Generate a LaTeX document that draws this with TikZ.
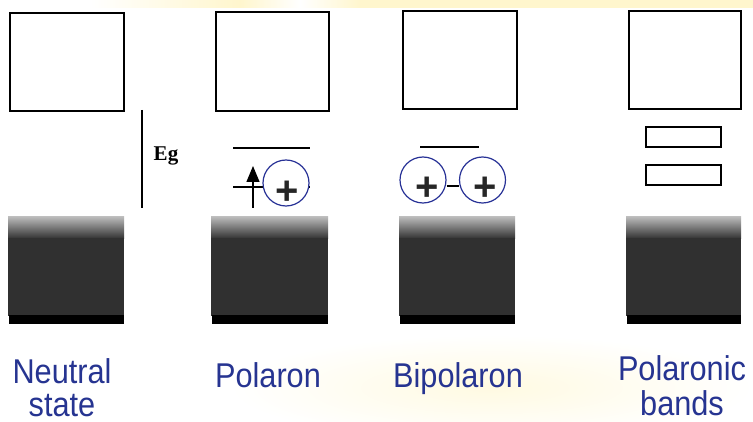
\documentclass[tikz,border=0pt]{standalone}
\usepackage{fontspec}
\setmainfont{Liberation Serif}
\newfontfamily\labelfont{Liberation Sans}
\usetikzlibrary{arrows.meta}
\definecolor{labelblue}{RGB}{38,52,145}
\definecolor{holeblue}{RGB}{40,50,150}
\definecolor{dkgray}{RGB}{48,48,48}
\definecolor{ltgray}{RGB}{185,185,185}
\definecolor{bgyellow}{RGB}{255,246,205}
\definecolor{bgfaint}{RGB}{255,250,226}
\begin{document}
\begin{tikzpicture}[x=1pt,y=-1pt,
  cbox/.style={draw=black, line width=1.4pt},
  level/.style={draw=black, line width=1.4pt},
  hole/.style={circle, draw=holeblue, line width=1.2pt, minimum size=46pt, inner sep=0pt},
  plussign/.style={font=\labelfont\bfseries\fontsize{40}{40}\selectfont, text=black!85, inner sep=0pt},
  lbl/.style={font=\labelfont\fontsize{30.7}{30}\selectfont, text=labelblue, inner sep=0pt, anchor=base},
  egtext/.style={font=\bfseries\fontsize{21}{21}\selectfont, inner sep=0pt, anchor=base}
]
\useasboundingbox (0,0) rectangle (753,422);
% background hints
\shade[left color=white, right color=bgyellow] (90,0) rectangle (240,8);
\shade[left color=bgyellow, right color=white] (240,0) rectangle (300,8);
\shade[left color=white, right color=bgyellow] (300,0) rectangle (360,8);
\fill[bgyellow] (360,0) rectangle (753,8);
\shade[inner color=bgfaint, outer color=white] (230,335) rectangle (753,440);

% conduction bands
\draw[cbox] (10,13) rectangle (124,111);
\draw[cbox] (216,12) rectangle (329,111);
\draw[cbox] (403,11) rectangle (517,109);
\draw[cbox] (629,11) rectangle (741,109);

% valence bands
\foreach \l/\r in {8/124, 211/328, 399/515, 626/741}{
  \shade[top color=ltgray, bottom color=dkgray] (\l,217) rectangle (\r,239);
  \fill[dkgray] (\l,238.5) rectangle (\r,316);
  \fill[black] (\l+1,315) rectangle (\r,324);
}

% Eg
\coordinate (egtop) at (142,110);
\coordinate (egbot) at (142,208);
\draw[line width=1.3pt] (egtop) -- (egbot);
\node[egtext] (eg) at (166,161) {Eg};

% Polaron
\coordinate (p1a) at (233,148); \coordinate (p1b) at (310,148);
\coordinate (p2a) at (233,187); \coordinate (p2b) at (310,187);
\draw[level] (p1a) -- (p1b);
\draw[level] (p2a) -- (p2b);
\coordinate (arrbot) at (253,208);
\coordinate (arrtop) at (253,166);
\draw[line width=1.3pt, -{Triangle[length=16pt,width=13pt]}] (arrbot) -- (arrtop);
\node[hole, fill=white] (ph) at (286,183) {};
\node[plussign] (pplus) at (287,193) {+};

% Bipolaron
\coordinate (b1a) at (420,147); \coordinate (b1b) at (479,147);
\draw[level] (b1a) -- (b1b);
\node[hole] (bh1) at (423,180) {};
\node[hole] (bh2) at (482.5,180) {};
\draw[line width=1.3pt] (bh1.east |- 0,186) -- (bh2.west |- 0,186);
\node[plussign] (bplus1) at (427,189) {+};
\node[plussign] (bplus2) at (485,189) {+};

% Polaronic bands
\draw[cbox] (646,127) rectangle (721,147);
\draw[cbox] (646,165) rectangle (721,185);

% labels
\node[lbl] (l1a) at (62,384) {\scalebox{1}[1.12]{Neutral}};
\node[lbl] (l1b) at (62,416) {\scalebox{1}[1.12]{state}};
\node[lbl] (l2) at (268,387) {\scalebox{1}[1.12]{Polaron}};
\node[lbl] (l3) at (458,387) {\scalebox{1}[1.12]{Bipolaron}};
\node[lbl] (l4a) at (682,381) {\scalebox{1}[1.12]{Polaronic}};
\node[lbl] (l4b) at (682,415) {\scalebox{1}[1.12]{bands}};
\end{tikzpicture}
\end{document}
